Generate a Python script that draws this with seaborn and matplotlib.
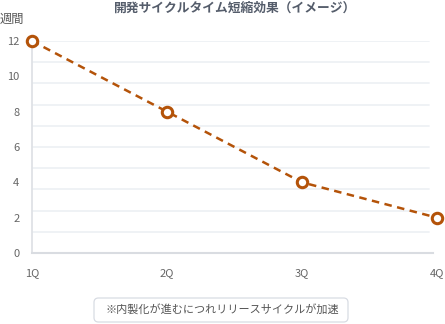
import matplotlib
matplotlib.use("Agg")
import matplotlib.pyplot as plt
from matplotlib.patches import FancyBboxPatch
import seaborn as sns
import pandas as pd
import numpy as np

quarters = ["1Q", "2Q", "3Q", "4Q"]
weeks = [12, 8, 4, 2]
y_ticks = [0, 2, 4, 6, 8, 10, 12]
grid_levels = [1.2, 2.4, 3.6, 4.8, 6.0, 7.2, 8.4, 9.6, 10.8, 12.0]
title = "開発サイクルタイム短縮効果（イメージ）"
y_label = "週間"
note = "※内製化が進むにつれリリースサイクルが加速"

sns.set_theme(style="white")
plt.rcParams['font.family'] = ['Noto Sans CJK JP', 'DejaVu Sans']

W, H = 445, 324
fig = plt.figure(figsize=(W / 100, H / 100), dpi=100)
ax = fig.add_axes([32 / W, (H - 253) / H, 405 / W, 212 / H])

df = pd.DataFrame({"q": np.arange(len(quarters)), "w": weeks})

for g in grid_levels:
    ax.axhline(g, xmin=0, xmax=397 / 405, color="#eef1f5", lw=1.3, zorder=0)

sns.lineplot(data=df, x="q", y="w", ax=ax, color="#b45309", lw=1.8,
             linestyle=(0, (3, 2.2)), marker="o", markersize=7.5,
             markerfacecolor="white", markeredgecolor="#b45309",
             markeredgewidth=2.2, clip_on=False, zorder=3)

ax.set_xlim(0, 3)
ax.set_ylim(0, 12)
for s in ["top", "right"]:
    ax.spines[s].set_visible(False)
ax.spines["left"].set_color("#dfe2e6")
ax.spines["left"].set_linewidth(1.3)
ax.spines["bottom"].set_color("#d9dce1")
ax.spines["bottom"].set_linewidth(1.5)
ax.spines["bottom"].set_bounds(0, 3 * 401 / 405)

ax.set_yticks(y_ticks)
ax.set_yticklabels([str(v) for v in y_ticks])
ax.set_xticks(range(len(quarters)))
ax.set_xticklabels(quarters)
ax.tick_params(axis="both", length=0, labelsize=8, colors="#666666")
ax.tick_params(axis="y", pad=9)
ax.tick_params(axis="x", pad=11)
ax.set_xlabel("")
ax.set_ylabel("")

fig.text(235 / W, 1 - 8 / H, title, ha="center", va="center",
         fontsize=9.2, fontweight="bold", color="#555d6b")
fig.text(0 / W, 1 - 19 / H, y_label, ha="left", va="center",
         fontsize=8.8, color="#555555")

box = FancyBboxPatch((94 / W, 1 - 322 / H), 254 / W, 24 / H,
                     boxstyle="round,pad=0,rounding_size=0.01",
                     transform=fig.transFigure, fc="white", ec="#d8dce3",
                     lw=0.9, mutation_aspect=W / H)
fig.patches.append(box)
fig.text(222 / W, 1 - 310 / H, note, ha="center", va="center",
         fontsize=8, color="#555555")

fig.savefig("out.png", dpi=100)
